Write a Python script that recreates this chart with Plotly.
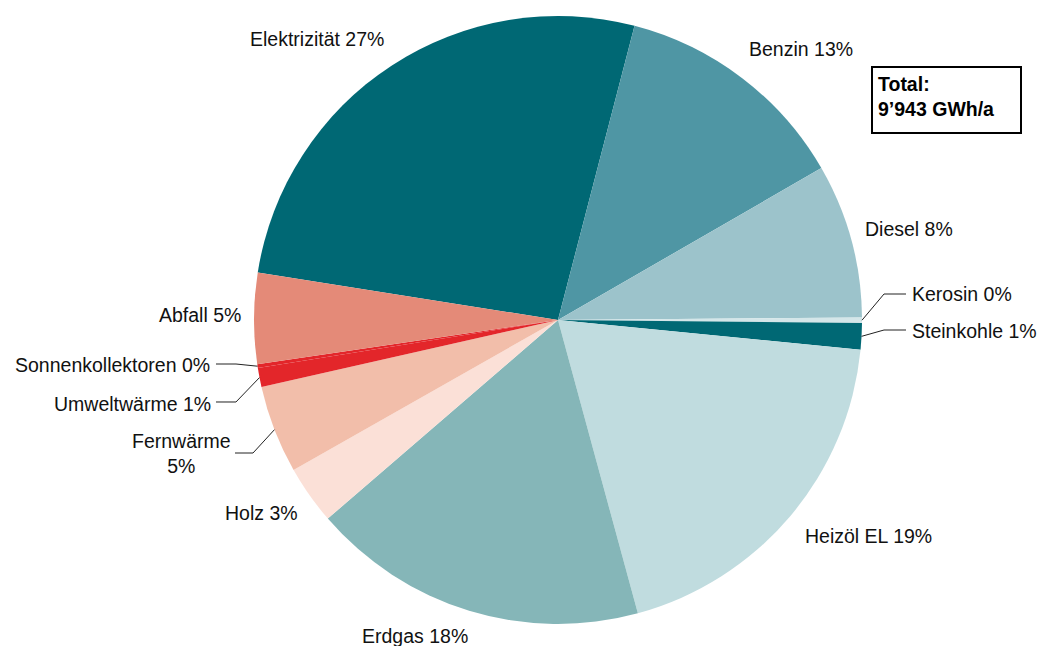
import math
import plotly.graph_objects as go

# Energy use by carrier, GWh per year
categories = [
    "Elektrizität", "Benzin", "Diesel", "Kerosin", "Steinkohle", "Heizöl EL",
    "Erdgas", "Holz", "Fernwärme", "Umweltwärme", "Sonnenkollektoren", "Abfall",
]
values_gwh = [2640, 1255, 815, 28, 140, 1910, 1780, 310, 465, 100, 20, 480]
colors = [
    "#006874", "#4f96a4", "#9cc3cb", "#d4e6e9", "#006874", "#c0dcdf",
    "#85b6b8", "#fbe0d7", "#f2beaa", "#e3262a", "#e3262a", "#e48a78",
]

W, H = 1038, 646
CX, CY, R = 558, 320, 304          # pie centre and radius in pixels
ROTATION = 279                      # start angle of the first slice, clockwise from 12 o'clock

total = sum(values_gwh)
pct = [round(v / total * 100) for v in values_gwh]

# label placement: (x, y, xanchor) in pixels, text centre line
label_pos = {
    "Elektrizität": (386, 39, "right"),
    "Benzin": (747, 49, "left"),
    "Diesel": (863, 229, "left"),
    "Kerosin": (910, 294, "left"),
    "Steinkohle": (910, 331, "left"),
    "Heizöl EL": (803, 536, "left"),
    "Erdgas": (415, 636, "center"),
    "Holz": (300, 513, "right"),
    "Fernwärme": (181, 453, "center"),
    "Umweltwärme": (213, 404, "right"),
    "Sonnenkollektoren": (212, 365, "right"),
    "Abfall": (243, 315, "right"),
}
# leader lines for the thin slices: elbow and end point in pixels
leaders = {
    "Kerosin": [(884, 294), (906, 294)],
    "Steinkohle": [(884, 330), (906, 330)],
    "Sonnenkollektoren": [(236, 364), (216, 364)],
    "Umweltwärme": [(236, 402), (216, 402)],
    "Fernwärme": [(253, 453), (235, 453)],
}


def px(x):
    return x / W


def py(y):
    return 1 - y / H


fig = go.Figure(go.Pie(
    labels=categories,
    values=values_gwh,
    marker=dict(colors=colors, line=dict(width=0)),
    sort=False,
    direction="clockwise",
    rotation=ROTATION,
    textinfo="none",
    hoverinfo="label+value+percent",
    showlegend=False,
    domain=dict(x=[px(CX - R), px(CX + R)], y=[py(CY + R), py(CY - R)]),
))

font = dict(family="Liberation Sans, Arial, sans-serif", size=19.5, color="#111111")

# mid angles of each slice, clockwise from the top
mid_angle = {}
acc = ROTATION
for cat, v in zip(categories, values_gwh):
    span = v / total * 360
    mid_angle[cat] = acc + span / 2
    acc += span

annotations = []
shapes = []
for cat, p in zip(categories, pct):
    x, y, anchor = label_pos[cat]
    text = f"{cat} {p}%" if cat != "Fernwärme" else f"{cat}<br>{p}%"
    annotations.append(dict(
        x=px(x), y=py(y), xref="paper", yref="paper", text=text, showarrow=False,
        xanchor=anchor, yanchor="middle", align="center", font=font,
    ))
    if cat in leaders:
        a = math.radians(mid_angle[cat])
        sx, sy = CX + R * math.sin(a), CY - R * math.cos(a)
        pts = [(sx, sy)] + leaders[cat]
        path = "M " + " L ".join(f"{px(u):.5f},{py(v):.5f}" for u, v in pts)
        shapes.append(dict(type="path", path=path, xref="paper", yref="paper",
                           line=dict(color="#222222", width=1)))

# total box
shapes.append(dict(type="rect", xref="paper", yref="paper",
                   x0=px(872), x1=px(1021), y0=py(133), y1=py(67),
                   line=dict(color="#000000", width=2), fillcolor="white"))
total_txt = f"{total:,}".replace(",", "’")
annotations.append(dict(
    x=px(876), y=py(97), xref="paper", yref="paper", showarrow=False,
    xanchor="left", yanchor="middle", align="left",
    text=f"<b>Total:</b><br><b>{total_txt} GWh/a</b>",
    font=dict(family="Liberation Sans, Arial, sans-serif", size=19.5, color="#000000"),
))

fig.update_layout(
    width=W, height=H,
    margin=dict(l=0, r=0, t=0, b=0),
    paper_bgcolor="white", plot_bgcolor="white",
    annotations=annotations, shapes=shapes,
)

fig.write_html("out.html")
